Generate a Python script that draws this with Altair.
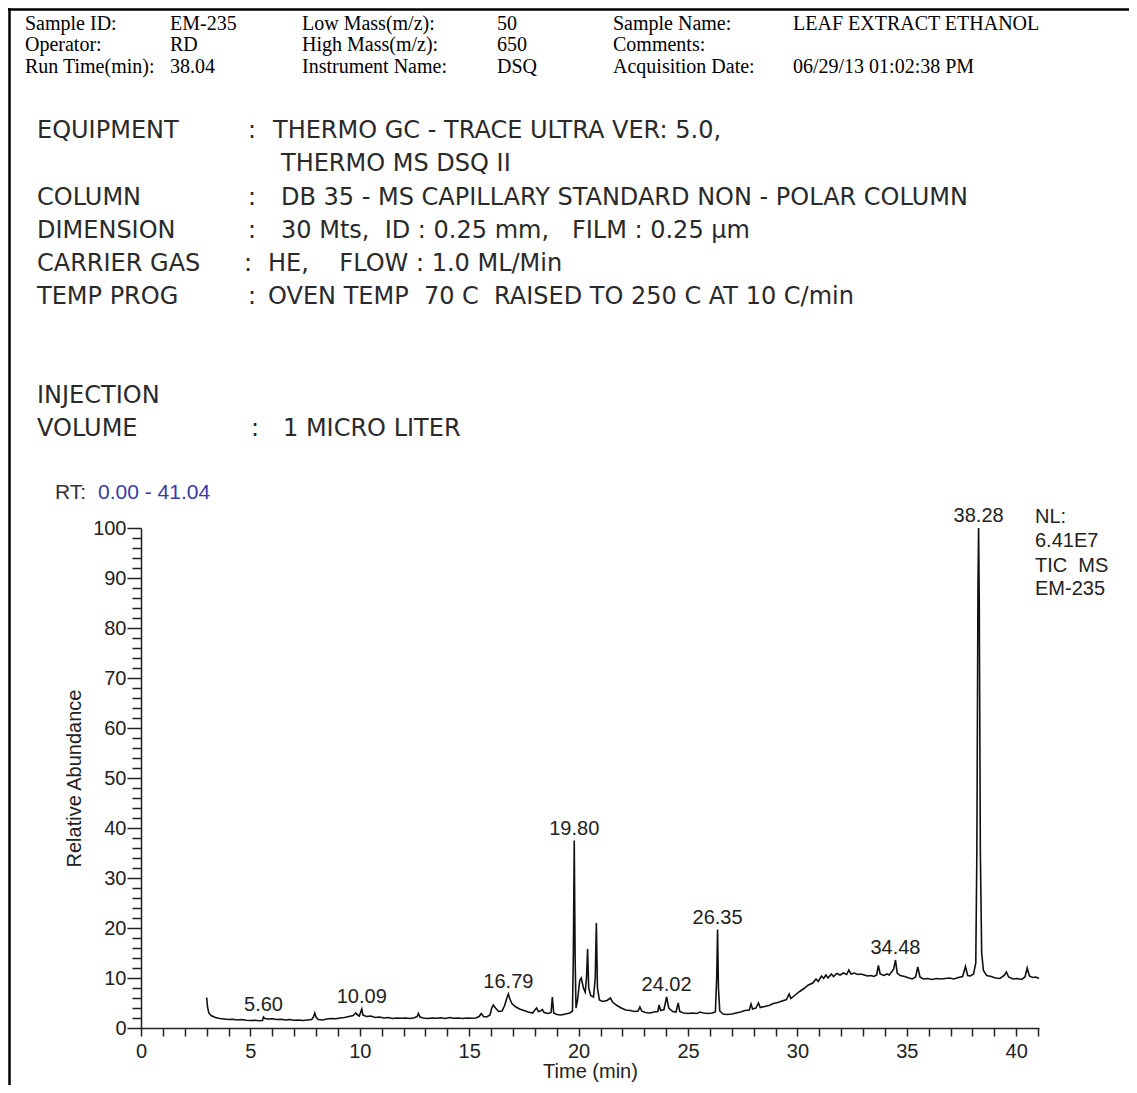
import altair as alt
import pandas as pd

# ---------------- data ----------------
rt = [3.00, 3.04, 3.10, 3.20, 3.40, 3.60, 3.80, 4.00, 4.20, 4.40, 4.60, 4.80, 5.00, 5.20, 5.40, 5.55,
      5.60, 5.66, 5.80, 6.00, 6.20, 6.40, 6.60, 6.80, 7.00, 7.20, 7.40, 7.60, 7.80, 7.88, 7.94, 8.00,
      8.10, 8.30, 8.50, 8.70, 8.90, 9.10, 9.30, 9.50, 9.70, 9.82, 9.90, 9.98, 10.04, 10.09, 10.14, 10.30,
      10.50, 10.70, 10.90, 11.10, 11.30, 11.50, 11.70, 11.90, 12.10, 12.30, 12.50, 12.62, 12.68, 12.75,
      12.90, 13.10, 13.30, 13.50, 13.70, 13.90, 14.10, 14.30, 14.50, 14.70, 14.90, 15.10, 15.30, 15.45,
      15.55, 15.65, 15.80, 15.95, 16.03, 16.10, 16.20, 16.35, 16.50, 16.62, 16.72, 16.79, 16.86, 16.95,
      17.10, 17.30, 17.50, 17.70, 17.90, 18.00, 18.08, 18.16, 18.26, 18.34, 18.42, 18.60, 18.74, 18.80,
      18.86, 19.00, 19.20, 19.40, 19.60, 19.72, 19.76, 19.80, 19.84, 19.88, 19.95, 20.05, 20.12, 20.22,
      20.30, 20.36, 20.41, 20.46, 20.55, 20.68, 20.76, 20.81, 20.86, 20.95, 21.10, 21.30, 21.45, 21.55,
      21.75, 21.95, 22.15, 22.35, 22.55, 22.72, 22.80, 22.88, 23.05, 23.25, 23.45, 23.62, 23.68, 23.75,
      23.90, 24.02, 24.12, 24.30, 24.45, 24.55, 24.62, 24.80, 25.00, 25.20, 25.40, 25.55, 25.70, 25.90,
      26.10, 26.25, 26.31, 26.35, 26.39, 26.45, 26.60, 26.80, 27.00, 27.20, 27.40, 27.60, 27.80, 27.88,
      27.95, 28.10, 28.22, 28.30, 28.50, 28.70, 28.90, 29.10, 29.30, 29.50, 29.62, 29.70, 29.90, 30.10,
      30.30, 30.50, 30.70, 30.85, 30.95, 31.10, 31.20, 31.30, 31.40, 31.55, 31.65, 31.80, 31.95, 32.10,
      32.25, 32.35, 32.45, 32.60, 32.75, 32.90, 33.05, 33.20, 33.35, 33.50, 33.62, 33.70, 33.78, 33.95,
      34.10, 34.20, 34.40, 34.48, 34.56, 34.70, 34.90, 35.10, 35.25, 35.40, 35.50, 35.60, 35.75, 35.95,
      36.15, 36.35, 36.55, 36.75, 36.95, 37.15, 37.35, 37.55, 37.68, 37.78, 37.90, 38.05, 38.15, 38.20,
      38.25, 38.28, 38.31, 38.36, 38.42, 38.50, 38.65, 38.85, 39.05, 39.25, 39.45, 39.55, 39.65, 39.85,
      40.05, 40.25, 40.40, 40.50, 40.60, 40.75, 40.90, 41.04]
abundance = [6.1, 4.2, 3.0, 2.5, 2.1, 1.9, 1.8, 1.7, 1.75, 1.6, 1.7, 1.55, 1.5, 1.55, 1.45, 1.5,
             2.2, 1.9, 1.8, 1.85, 1.7, 1.75, 1.6, 1.7, 1.55, 1.6, 1.5, 1.6, 1.7, 2.2, 3.0, 2.2,
             1.7, 1.6, 1.8, 1.9, 1.85, 2.0, 2.1, 2.3, 2.5, 3.0, 2.6, 2.4, 3.2, 3.8, 2.6, 2.3,
             2.4, 2.1, 2.2, 2.0, 2.1, 1.9, 2.0, 1.95, 2.0, 1.9, 2.05, 2.3, 2.9, 2.2,
             2.0, 1.9, 2.0, 1.95, 2.05, 1.9, 2.1, 1.95, 2.0, 1.9, 2.0, 1.95, 2.0, 2.3,
             2.9, 2.3, 2.2, 2.6, 4.0, 4.6, 4.0, 3.3, 3.4, 4.5, 6.0, 6.8, 5.8, 4.9,
             4.3, 3.8, 3.5, 3.2, 3.0, 3.6, 4.0, 3.3, 3.4, 3.7, 3.1, 2.9, 3.1, 6.2,
             3.0, 2.7, 2.6, 2.8, 3.0, 3.4, 15.0, 37.5, 14.0, 4.0, 5.5, 9.5, 10.0, 8.0,
             7.2, 10.0, 15.8, 8.0, 6.5, 6.2, 10.0, 21.0, 8.0, 5.6, 5.3, 5.5, 6.0, 5.2,
             4.5, 4.0, 3.6, 3.5, 3.3, 3.4, 4.2, 3.4, 3.1, 3.0, 3.2, 3.3, 4.6, 3.5,
             3.7, 6.2, 4.0, 3.3, 3.2, 5.0, 3.3, 3.0, 2.9, 3.0, 2.9, 3.2, 3.0, 2.9,
             3.0, 3.2, 10.0, 19.7, 8.0, 3.4, 2.8, 2.7, 2.8, 3.0, 3.2, 3.5, 3.6, 4.8,
             3.8, 4.0, 5.0, 4.1, 4.3, 4.5, 4.9, 5.1, 5.4, 5.7, 6.8, 5.9, 6.6, 7.3,
             7.9, 8.6, 9.0, 9.8, 9.3, 10.4, 9.9, 10.6, 10.0, 10.8, 10.3, 10.9, 10.6, 11.0,
             10.7, 11.6, 10.8, 11.0, 10.7, 10.8, 10.6, 10.4, 10.5, 10.3, 10.6, 12.5, 10.8, 10.5,
             10.8, 10.6, 11.8, 13.6, 11.0, 10.5, 10.3, 10.0, 9.8, 10.2, 12.2, 10.2, 9.8, 9.9,
             9.7, 9.9, 9.8, 9.9, 10.0, 9.8, 10.1, 10.3, 12.3, 10.5, 10.4, 10.8, 13.0, 35.0,
             88.0, 100.0, 85.0, 35.0, 15.0, 11.5, 10.5, 10.3, 10.0, 9.9, 10.5, 11.2, 10.2, 9.8,
             9.9, 9.7, 10.2, 12.0, 10.4, 10.1, 10.2, 9.9]

peak_rt = [5.60, 10.09, 16.79, 19.80, 24.02, 26.35, 34.48, 38.28]
peak_top = [2.2, 3.8, 6.8, 37.5, 6.2, 19.7, 13.6, 100.0]

x_ticks = list(range(0, 42))
y_ticks = list(range(0, 101, 2))

NB = "\u00a0"
header_labels_1 = ["Sample ID:", "Operator:", "Run Time(min):"]
header_values_1 = ["EM-235", "RD", "38.04"]
header_labels_2 = ["Low Mass(m/z):", "High Mass(m/z):", "Instrument Name:"]
header_values_2 = ["50", "650", "DSQ"]
header_labels_3 = ["Sample Name:", "Comments:", "Acquisition Date:"]
header_values_3 = ["LEAF EXTRACT ETHANOL", "", "06/29/13 01:02:38 PM"]

method_keys = ["EQUIPMENT", "", "COLUMN", "DIMENSION", "CARRIER GAS", "TEMP PROG", "INJECTION", "VOLUME"]
method_colon = [True, False, True, True, True, True, False, True]
method_values = ["THERMO GC - TRACE ULTRA VER: 5.0,", "THERMO MS DSQ II",
                 "DB 35 - MS CAPILLARY STANDARD NON - POLAR COLUMN",
                 "30 Mts," + NB + " ID : 0.25 mm," + NB + NB + " FILM : 0.25 \u00b5m",
                 "HE," + NB + NB + NB + " FLOW : 1.0 ML/Min",
                 "OVEN TEMP " + NB + "70 C " + NB + "RAISED TO 250 C AT 10 C/min",
                 "", "1 MICRO LITER"]

rt_range_label = "RT:"
rt_range_value = "0.00 - 41.04"
info_lines = ["NL:", "6.41E7", "TIC" + NB + " MS", "EM-235"]

# ---------------- layout ----------------
PL, PT = 141, 528          # plot-area origin on the page
W, H = 898, 500
SANS = "Liberation Sans"
SERIF = "Liberation Serif"
METHOD_FONT = "DejaVu Sans"
one = alt.Data(values=[{"k": 1}])


def txt(s, xp, yp, size, font, color="#111111", align="left", baseline="middle", weight="normal"):
    return alt.Chart(one).mark_text(
        text=s, font=font, fontSize=size, color=color, align=align,
        baseline=baseline, fontWeight=weight
    ).encode(x=alt.value(xp - PL), y=alt.value(yp - PT))


layers = []

# frame lines (left and top)
layers.append(alt.Chart(one).mark_rule(color="#000000", strokeWidth=2.5).encode(
    x=alt.value(9.5 - PL), y=alt.value(8 - PT), y2=alt.value(1085 - PT)))
layers.append(alt.Chart(one).mark_rule(color="#000000", strokeWidth=2.5).encode(
    x=alt.value(8 - PL), x2=alt.value(1129 - PL), y=alt.value(9.5 - PT)))

# header block
rows_y = [24, 45, 67]
for col_x, items in [(25, header_labels_1), (170, header_values_1), (302, header_labels_2),
                     (497, header_values_2), (613, header_labels_3), (793, header_values_3)]:
    for s, yy in zip(items, rows_y):
        if s:
            layers.append(txt(s, col_x, yy, 20, SERIF, color="#000000"))

# method block
MS = 24
method_y = [131, 164, 198, 231, 264, 297, 396, 429]
colon_x = [248, 0, 248, 248, 244, 248, 0, 251]
value_x = [273, 281, 281, 281, 268, 268, 0, 283]
for k, c, v, yy, cx, vx in zip(method_keys, method_colon, method_values, method_y, colon_x, value_x):
    if k:
        layers.append(txt(k, 37, yy, MS, METHOD_FONT, color="#2a2a2a"))
    if c:
        layers.append(txt(":", cx, yy, MS, METHOD_FONT, color="#2a2a2a"))
    if v:
        layers.append(txt(v, vx, yy, MS, METHOD_FONT, color="#2a2a2a"))

# RT range
layers.append(txt(rt_range_label, 55, 493, 21, SANS, color="#333333"))
layers.append(txt(rt_range_value, 98, 493, 21, SANS, color="#3a3aa8"))

# NL info
for s, yy in zip(info_lines, [517, 541, 566, 589]):
    layers.append(txt(s, 1035, yy, 20, SANS, color="#222222"))

# chromatogram
xscale = alt.Scale(domain=[0, 41.04], nice=False, zero=False)
yscale = alt.Scale(domain=[0, 100], nice=False)
xaxis = alt.Axis(values=x_ticks, labelExpr="datum.value % 5 === 0 ? datum.label : ''",
                 tickSize=8, labelPadding=5, labelFlush=False, labelOverlap=False,
                 title="Time (min)", titlePadding=0, grid=False)
yaxis = alt.Axis(values=y_ticks, labelExpr="datum.value % 10 === 0 ? datum.label : ''",
                 tickSize={"condition": {"test": "datum.value % 10 === 0", "value": 14}, "value": 9},
                 labelPadding=1, labelOverlap=False, labelFlush=False,
                 title="Relative Abundance", titlePadding=8, grid=False)

trace = pd.DataFrame({"rt": rt, "ab": abundance})
line = alt.Chart(trace).mark_line(color="#111111", strokeWidth=1.6).encode(
    x=alt.X("rt:Q", scale=xscale, axis=xaxis),
    y=alt.Y("ab:Q", scale=yscale, axis=yaxis),
)
peaks = pd.DataFrame({"rt": peak_rt, "ab": peak_top})
peak_labels = alt.Chart(peaks).mark_text(
    baseline="bottom", dy=-2, font=SANS, fontSize=20, color="#222222"
).encode(
    x=alt.X("rt:Q", scale=xscale, axis=xaxis),
    y=alt.Y("ab:Q", scale=yscale, axis=yaxis),
    text=alt.Text("rt:Q", format=".2f"),
)

chart = alt.layer(line, peak_labels, *layers).properties(
    width=W, height=H,
    padding={"left": PL - 8, "top": PT - 8, "right": 1129 - PL - W, "bottom": 1085 - PT - H},
    autosize=alt.AutoSizeParams(type="none"),
).configure_view(stroke=None).configure_axis(
    domainColor="#222222", domainWidth=1.5, tickColor="#222222", tickWidth=1.5,
    labelFont=SANS, labelFontSize=20, labelColor="#222222",
    titleFont=SANS, titleFontSize=20, titleColor="#222222", titleFontWeight="normal",
)

chart.save("out.html", embed_options={"renderer": "svg", "actions": False})
